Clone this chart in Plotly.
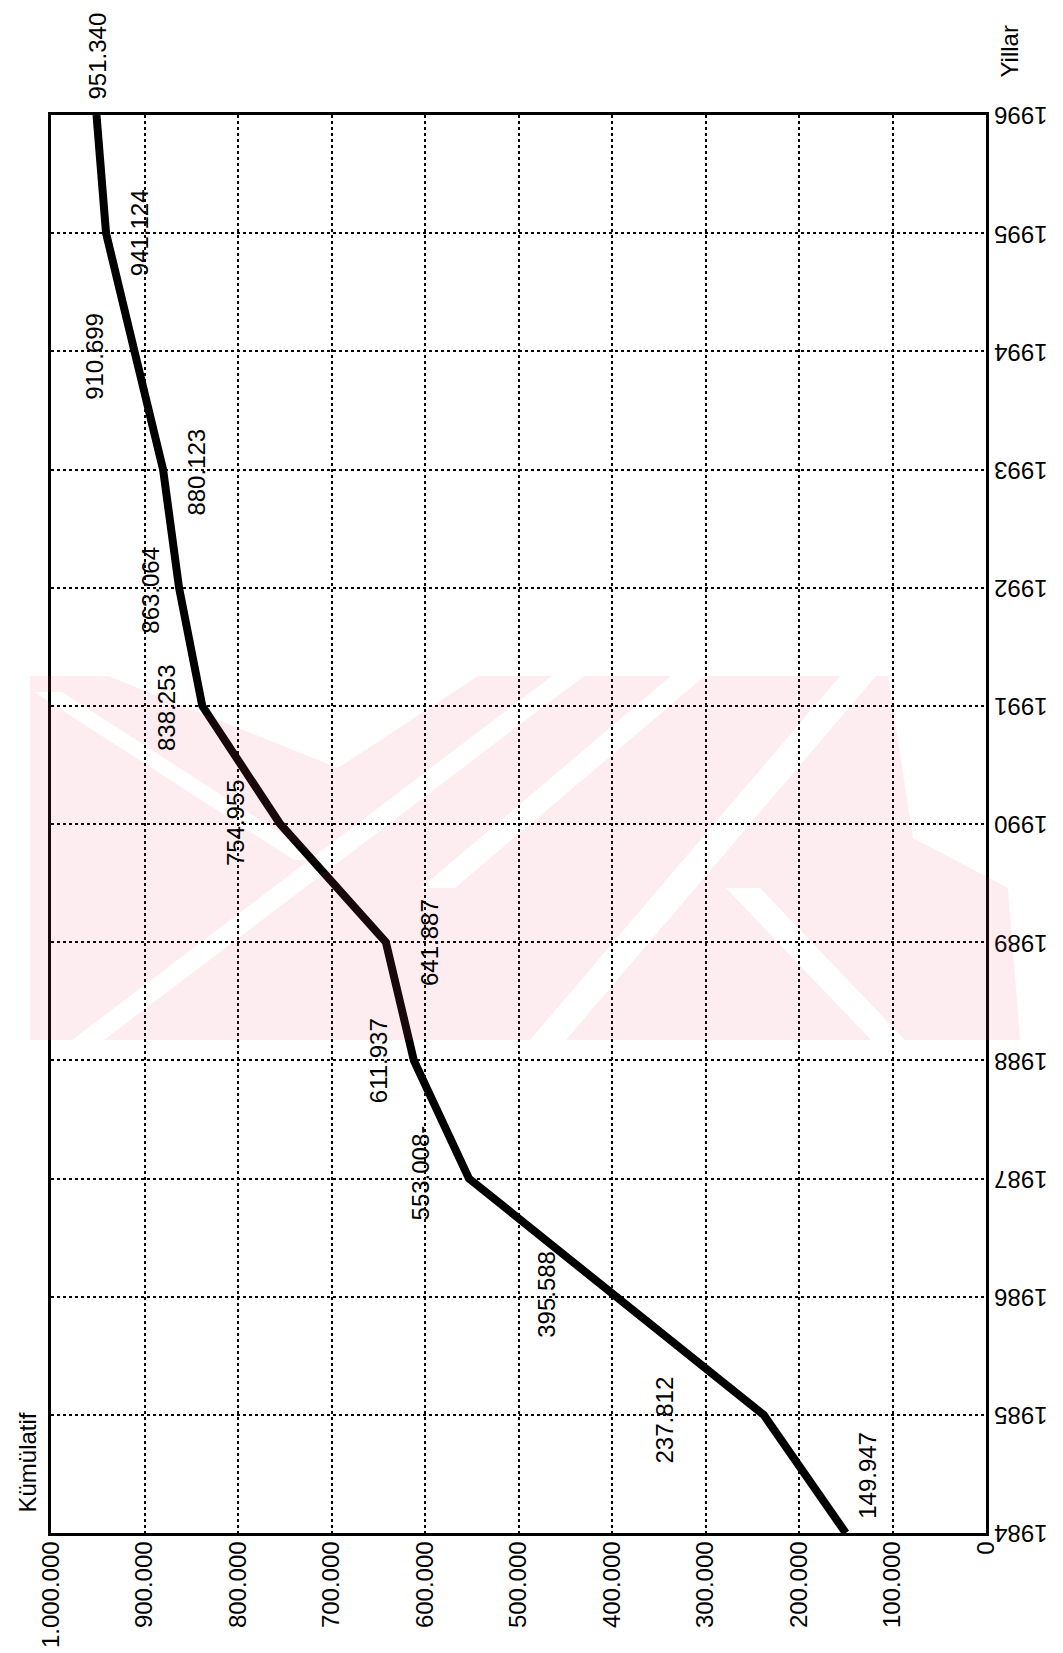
import plotly.graph_objects as go

years = [1984, 1985, 1986, 1987, 1988, 1989, 1990, 1991, 1992, 1993, 1994, 1995, 1996]
cumulative = [149947, 237812, 395588, 553008, 611937, 641887, 754955, 838253,
              863064, 880123, 910699, 941124, 951340]
value_labels = ["149.947", "237.812", "395.588", "553.008-", "611.937", "641.887",
                "754.955", "838.253", "863.064", "880.123", "910.699", "941.124", "951.340"]
x_tick_vals = [0, 100000, 200000, 300000, 400000, 500000, 600000, 700000, 800000, 900000, 1000000]
x_tick_text = ["0", "100.000", "200.000", "300.000", "400.000", "500.000", "600.000",
               "700.000", "800.000", "900.000", "1.000.000"]
year_tick_text = [str(y) for y in years]
x_title = "Kümülatif"
y_title = "Yillar"

# label offsets in pixels (dx, dy) relative to each point
label_offsets = [(21, 58), (-99, -5), (-69, 2), (-48, 6), (-36, 0), (43, 0), (-45, 1),
                 (-35, -2), (-28, -3), (33, -3), (-40, -5), (33, 0), (0, 59)]

FONT = "Liberation Sans, Arial, sans-serif"
FS = 24
W, H = 1063, 1653
L, R, T, B = 43, 85, 107, 128
PW, PH = W - L - R, H - T - B
X_MAX = 1000000
Y0, Y1 = years[0], years[-1]


def to_paper(xp, yp):
    """pixel position -> paper coords (decorative watermark only)"""
    return (xp - L) / PW, (H - B - yp) / PH


def area(pts):
    s = 0.0
    for i in range(len(pts)):
        x0, y0 = pts[i]
        x1, y1 = pts[(i + 1) % len(pts)]
        s += x0 * y1 - x1 * y0
    return s / 2


def sub(pts):
    p = [to_paper(a, b) for a, b in pts]
    return "M " + " L ".join(f"{a:.4f},{b:.4f}" for a, b in p) + " Z"


def stripe(p0, p1, w):
    (x0, y0), (x1, y1) = p0, p1
    return [(x0 - w / 2, y0), (x0 + w / 2, y0), (x1 + w / 2, y1), (x1 - w / 2, y1)]


fig = go.Figure()

fig.add_trace(go.Scatter(
    x=cumulative, y=years, mode="lines",
    line=dict(color="black", width=8, shape="linear"),
    showlegend=False, hoverinfo="skip", cliponaxis=False,
))

for v, yr, lab, (dx, dy) in zip(cumulative, years, value_labels, label_offsets):
    fig.add_annotation(x=v, y=yr, xref="x", yref="y", text=lab, showarrow=False,
                       textangle=-90, xshift=dx, yshift=dy,
                       font=dict(family=FONT, size=FS, color="black"))

fig.add_annotation(x=0, y=0, xref="paper", yref="paper", text=x_title, showarrow=False,
                   textangle=-90, xanchor="right", yanchor="bottom", xshift=-9, yshift=18,
                   font=dict(family=FONT, size=FS, color="black"))
fig.add_annotation(x=1, y=1, xref="paper", yref="paper", text=y_title, showarrow=False,
                   textangle=-90, xanchor="left", yanchor="bottom", xshift=7, yshift=35,
                   font=dict(family=FONT, size=FS, color="black"))

# faint pink scanning watermark over the page (translucent; holes via opposite winding)
outer = [(22, 668), (880, 668), (905, 830), (1000, 880), (1012, 1032), (22, 1032)]
holes = [
    stripe((40, 684), (300, 852), 28),
    stripe((80, 1032), (560, 668), 32),
    stripe((430, 880), (680, 668), 34),
    stripe((540, 1032), (850, 668), 36),
    stripe((735, 880), (880, 1032), 34),
    [(100, 668), (330, 760), (470, 668)],
]
sign = area(outer)
path = sub(outer)
for h in holes:
    if area(h) * sign > 0:
        h = h[::-1]
    path += " " + sub(h)
fig.add_shape(type="path", xref="paper", yref="paper", layer="above", line_width=0,
              fillcolor="rgba(235,70,110,0.10)", path=path)

fig.update_xaxes(range=[X_MAX, 0], tickvals=x_tick_vals, ticktext=x_tick_text,
                 tickangle=-90, showgrid=True, gridcolor="black", gridwidth=1.5,
                 griddash="dot", zeroline=False, showline=True, mirror=True,
                 linecolor="black", linewidth=2.5, ticks="", ticklen=0, ticklabelstandoff=-4,
                 tickfont=dict(family=FONT, size=FS, color="black"))
fig.update_yaxes(range=[Y0, Y1], tickvals=years, ticktext=year_tick_text, side="right",
                 tickangle=180, showgrid=True, gridcolor="black", gridwidth=1.5,
                 griddash="dot", zeroline=False, showline=True, mirror=True,
                 linecolor="black", linewidth=2.5, ticks="", ticklabelstandoff=54,
                 ticklabelshift=8,
                 tickfont=dict(family=FONT, size=FS, color="black"))

fig.update_layout(width=W, height=H, plot_bgcolor="white", paper_bgcolor="white",
                  margin=dict(l=L, r=R, t=T, b=B, autoexpand=False))

fig.write_html("out.html")
